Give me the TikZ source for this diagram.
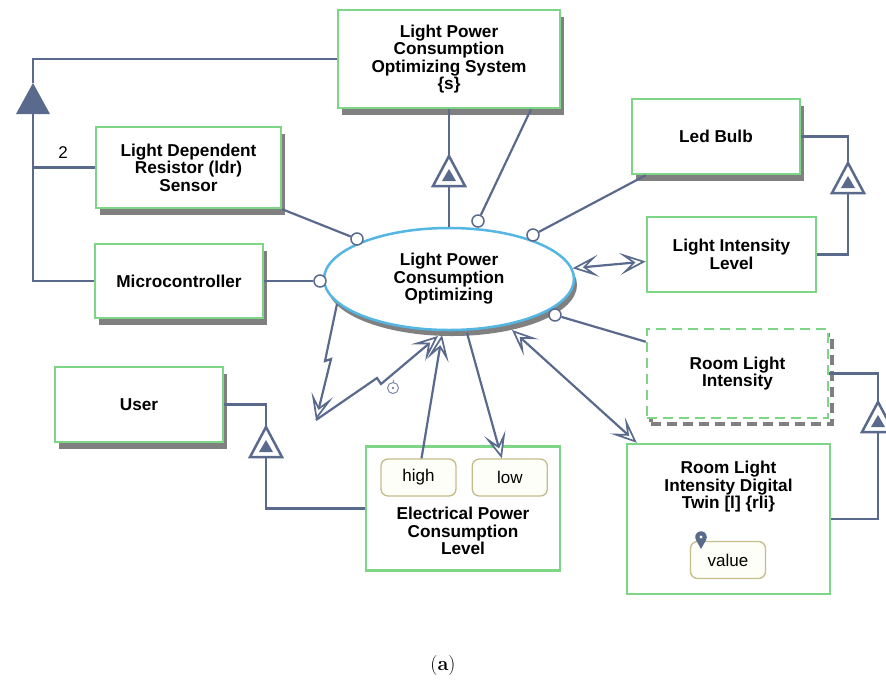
\documentclass[tikz,border=0pt]{standalone}
\usepackage{fontspec}
\newfontfamily\opmfont{Liberation Sans}
\usepackage{tikz}
\usetikzlibrary{positioning,calc,shadows,arrows.meta,shapes.geometric}

\definecolor{linkcol}{RGB}{90,106,140}
\definecolor{objgreen}{RGB}{124,214,134}
\definecolor{shadowgray}{RGB}{128,128,128}
\definecolor{procblue}{RGB}{84,182,226}
\definecolor{statecol}{RGB}{196,188,138}
\definecolor{statefill}{RGB}{254,254,248}

\tikzset{
  opm/.style={font=\opmfont\bfseries\fontsize{17.2}{17.5}\selectfont, align=center},
  object/.style={opm, rectangle, draw=objgreen, line width=2.5pt, fill=white, inner sep=0pt},
  physical/.style={object, general shadow={fill=shadowgray, shadow xshift=4pt, shadow yshift=-7pt}},
  envobj/.style={object, dash pattern=on 10pt off 6pt,
    general shadow={draw=shadowgray, line width=4pt, dash pattern=on 10pt off 6pt, shadow xshift=4pt, shadow yshift=-6pt}},
  process/.style={opm, ellipse, draw=procblue, line width=2.5pt, fill=white, inner sep=0pt,
    minimum width=250pt, minimum height=102pt,
    general shadow={fill=shadowgray, shadow xshift=3pt, shadow yshift=-6pt}},
  state/.style={rectangle, rounded corners=7pt, draw=statecol, line width=1.3pt, fill=statefill,
    font=\opmfont\fontsize{17}{17.5}\selectfont, minimum width=75pt, minimum height=37pt, inner sep=0pt},
  instr/.style={circle, draw=linkcol, line width=1.5pt, fill=white, minimum size=12pt, inner sep=0pt},
  link/.style={draw=linkcol, line width=2.2pt},
  opmtip/.tip={Stealth[fill=white, length=26pt, width=22pt, inset=13pt, line width=1.7pt]},
  effect/.style={link, opmtip-opmtip},
  result/.style={link, -opmtip},
  exhib/.pic={
    \draw[linkcol, line width=2.5pt, fill=white] (0,0) -- (16,30) -- (-16,30) -- cycle;
    \fill[linkcol] (0,13) -- (7,25) -- (-7,25) -- cycle;
  },
  aggr/.pic={
    \fill[linkcol] (0,0) -- (17,31) -- (-17,31) -- cycle;
  },
  clock/.pic={
    \draw[linkcol!80, line width=1pt] (0,0) circle (5.5pt);
    \fill[linkcol!80] (0,0) circle (1.3pt);
    \draw[linkcol!80, line width=1pt] (0,-5.5) -- (0,-8);
  },
  pin/.pic={
    \fill[linkcol] (0,12) -- (-5,3) arc (210:-30:5.8pt) -- cycle;
    \fill[white] (0,0) circle (1.6pt);
  },
}

\begin{document}
\begin{tikzpicture}[x=1pt,y=-1pt]
\useasboundingbox (0,0) rectangle (886,681);

\node[physical, minimum width=222pt, minimum height=98pt] (sys) at (449,59) {Light Power\\Consumption\\Optimizing System\\\{s\}};
\node[physical, minimum width=185pt, minimum height=81pt] (ldr) at (188.5,167.5) {Light Dependent\\Resistor (ldr)\\Sensor};
\node[physical, minimum width=168pt, minimum height=74pt] (mcu) at (179,281) {Microcontroller};
\node[physical, minimum width=168pt, minimum height=75pt] (user) at (139,404.5) {User};
\node[physical, minimum width=168pt, minimum height=75pt] (led) at (716,136.5) {Led Bulb};
\node[object, minimum width=169pt, minimum height=75pt] (lil) at (731.5,254.5) {Light Intensity\\Level};
\node[envobj, minimum width=181pt, minimum height=89pt] (rli) at (737.5,373.5) {Room Light\\Intensity};

\node[object, minimum width=203pt, minimum height=150pt] (twin) at (728.5,519) {};
\node[opm] (twintext) at (728.5,487) {Room Light\\Intensity Digital\\Twin [l] \{rli\}};
\node[state] (value) at (728,560) {value};
\pic at (701,537) {pin};

\node[object, minimum width=194pt, minimum height=124pt] (epcl) at (463,508.5) {};
\node[state] (high) at (418.5,477.5) {high};
\node[state, right=15pt of high] (low) {low};
\node[opm] (epcltext) at (463,531) {Electrical Power\\Consumption\\Level};

\node[process] (ell) at (449,279) {Light Power\\Consumption\\Optimizing};

\node[instr] (i1) at (357,239) {};
\node[instr] (i2) at (320,281) {};
\node[instr] (i3) at (478,221) {};
\node[instr] (i4) at (533,235) {};
\node[instr] (i5) at (555,315) {};

\draw[link] (ldr.south east) -- (i1);
\draw[link] (mcu.east) -- (i2);
\draw[link] ($(sys.south)+(82,0)$) -- (i3);
\draw[link] ($(led.south west)+(15,0)$) -- (i4);
\draw[link] (i5) -- ($(rli.north west)+(0,14)$);

% aggregation
\coordinate (ag) at (33,83);
\pic at (ag) {aggr};
\draw[link] (sys.west) -| (ag);
\draw[link] ($(ag)+(0,31)$) |- (mcu.west);
\draw[link] (ldr.west -| ag) -- (ldr.west);
\node[font=\opmfont\fontsize{17}{17.5}\selectfont] (mult) at (63,153) {2};

% exhibition
\coordinate (ex1) at (449,156);
\draw[link] (sys.south) -- (ex1);
\draw[link] ($(ex1)+(0,30)$) -- (ell.north);
\pic at (ex1) {exhib};

\coordinate (ex2) at (848,163);
\draw[link] (led.east) -| (ex2);
\draw[link] ($(ex2)+(0,30)$) |- (lil.east);
\pic at (ex2) {exhib};

\coordinate (ex3) at (878,402);
\draw[link] (rli.east) -| (ex3);
\draw[link] ($(ex3)+(0,30)$) |- (twin.east);
\pic at (ex3) {exhib};

\coordinate (ex4) at (266,427);
\draw[link] (user.east) -| (ex4);
\draw[link] ($(ex4)+(0,30)$) |- (epcl.west);
\pic at (ex4) {exhib};

% effect and result links
\draw[effect] (ell.5) -- ($(lil.west)+(0,7)$);
\draw[effect] ($(ell.center)+(63,51)$) -- ($(twin.north west)+(11,0)$);
\draw[result] ($(ell.center)+(18,54)$) -- ($(low.north)+(-8,0)$);
\draw[result] ($(high.north)+(3,0)$) -- ($(ell.center)+(-7,56)$);

% invocation
\coordinate (inv0) at ($(ell.center)+(-112,25)$);
\coordinate (inv1) at (316,420);
\draw[result] (inv0) -- (325,361) -- (331,359) -- (inv1);
\draw[result] (inv1) -- (377,378) -- (381,384) -- ($(ell.center)+(-11,57)$);
\pic at (393,388) {clock};

\node[font=\fontsize{20}{22}\selectfont] (cap) at (443,665) {(\textbf{a})};
\end{tikzpicture}
\end{document}
